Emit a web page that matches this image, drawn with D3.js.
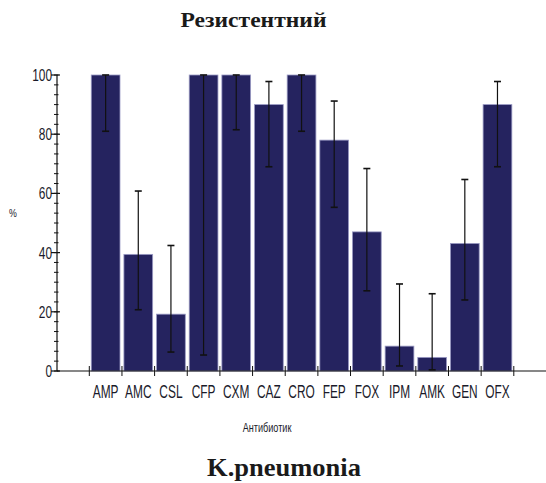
<!DOCTYPE html>
<html><head><meta charset="utf-8">
<script src="https://cdn.jsdelivr.net/npm/d3@7"></script>
<style>body{margin:0;background:#fff}svg{display:block}</style>
</head><body>
<script>
const categories = ["AMP","AMC","CSL","CFP","CXM","CAZ","CRO","FEP","FOX","IPM","AMK","GEN","OFX"];
const values     = [100, 39.4, 19.2, 100, 100, 90, 100, 78, 47, 8.4, 4.6, 43.1, 90];
const errLow     = [81, 20.7, 6.4, 5.4, 81.5, 69, 81, 55.3, 27.1, 1.7, 0.4, 24, 69];
const errHigh    = [100, 60.8, 42.4, 100, 100, 97.8, 100, 91.2, 68.4, 29.4, 26.1, 64.7, 97.8];
const yTicks     = [0, 20, 40, 60, 80, 100];
const title = "Резистентний", xTitle = "Антибиотик", yTitle = "%", caption = "K.pneumonia";

const W = 546, H = 483;
const svg = d3.select("body").append("svg").attr("width", W).attr("height", H);

const y = d3.scaleLinear().domain([0, 100]).range([371, 75]);
const x = d3.scaleBand().domain(categories).range([89.3, 513.8]).paddingInner(0.12).paddingOuter(0.06);
const step = x.step();
const axisX = 57;
const navy = "#25235f";
const font = "'Liberation Sans', Arial, sans-serif";
const serif = "'Liberation Serif', 'Times New Roman', serif";

function fitText(sel, cx, by, targetW) {
  const w = sel.node().getComputedTextLength();
  sel.attr("transform", `translate(${cx},${by}) scale(${targetW / w},1)`);
}

// title & caption
const t1 = svg.append("text").attr("text-anchor", "middle")
  .attr("font-family", serif).attr("font-weight", "bold")
  .attr("font-size", 21.5).attr("fill", "#1a1a1a").text(title);
fitText(t1, 253.5, 27, 146);
const t2 = svg.append("text").attr("text-anchor", "middle")
  .attr("font-family", serif).attr("font-weight", "bold")
  .attr("font-size", 26).attr("fill", "#1a1a1a").text(caption);
fitText(t2, 284, 475.5, 154);

// bars
const data = categories.map((c, i) => ({c, v: values[i], lo: errLow[i], hi: errHigh[i]}));
svg.append("g").selectAll("rect").data(data).join("rect")
  .attr("x", d => x(d.c)).attr("width", x.bandwidth())
  .attr("y", d => y(d.v)).attr("height", d => y(0) - y(d.v))
  .attr("fill", navy).attr("stroke", "#9a9ac4").attr("stroke-width", 0.8);

// error bars
const eg = svg.append("g").attr("stroke", "#111").attr("stroke-width", 1.2);
data.forEach(d => {
  const cx = x(d.c) + x.bandwidth() / 2;
  eg.append("line").attr("x1", cx).attr("x2", cx).attr("y1", y(d.hi)).attr("y2", y(d.lo));
  eg.append("line").attr("x1", cx - 3.5).attr("x2", cx + 3.5).attr("y1", y(d.hi)).attr("y2", y(d.hi)).attr("stroke-width", 1.6);
  eg.append("line").attr("x1", cx - 3.5).attr("x2", cx + 3.5).attr("y1", y(d.lo)).attr("y2", y(d.lo)).attr("stroke-width", 1.6);
});

// y axis
const ya = svg.append("g");
ya.append("line").attr("x1", axisX).attr("x2", axisX).attr("y1", y(100)).attr("y2", y(0)).attr("stroke", "#111").attr("stroke-width", 1.2);
const minor = d3.range(0, 31).map(k => k * 100 / 30);
ya.selectAll("line.minor").data(minor).join("line").attr("class", "minor")
  .attr("x1", axisX - 3).attr("x2", axisX + 1.5).attr("y1", d => y(d)).attr("y2", d => y(d))
  .attr("stroke", "#111").attr("stroke-width", 1);
ya.selectAll("line.major").data(yTicks).join("line").attr("class", "major")
  .attr("x1", axisX - 6).attr("x2", axisX + 3).attr("y1", d => y(d)).attr("y2", d => y(d))
  .attr("stroke", "#111").attr("stroke-width", 1.2);
ya.selectAll("text").data(yTicks).join("text")
  .attr("transform", d => `translate(${axisX - 5},${y(d) + 6}) scale(0.7,1)`)
  .attr("text-anchor", "end").attr("font-family", font).attr("font-size", 17).attr("fill", "#1a1a2a")
  .text(d => d);

// x axis
const xa = svg.append("g");
xa.append("line").attr("x1", axisX).attr("x2", W).attr("y1", y(0)).attr("y2", y(0)).attr("stroke", "#111").attr("stroke-width", 1.2);
const bounds = categories.map(c => x(c) - step * 0.06).concat([x(categories[categories.length - 1]) + x.bandwidth() + step * 0.06]);
xa.selectAll("line.t").data(bounds).join("line").attr("class", "t")
  .attr("x1", d => d).attr("x2", d => d).attr("y1", y(0) - 5).attr("y2", y(0) + 5)
  .attr("stroke", "#111").attr("stroke-width", 1);
xa.selectAll("text").data(categories).join("text")
  .attr("transform", c => `translate(${x(c) + x.bandwidth() / 2},${y(0) + 26.5}) scale(0.68,1)`)
  .attr("text-anchor", "middle").attr("font-family", font).attr("font-size", 17.5).attr("fill", "#1a1a2a")
  .text(c => c);

// axis titles
svg.append("text").attr("transform", `translate(267,432) scale(0.7,1)`).attr("text-anchor", "middle")
  .attr("font-family", font).attr("font-size", 13).attr("fill", "#1a1a2a").text(xTitle);
svg.append("text").attr("transform", `translate(13,217) scale(0.8,1)`).attr("text-anchor", "middle")
  .attr("font-family", font).attr("font-size", 11).attr("fill", "#1a1a2a").text(yTitle);
</script>
</body></html>
